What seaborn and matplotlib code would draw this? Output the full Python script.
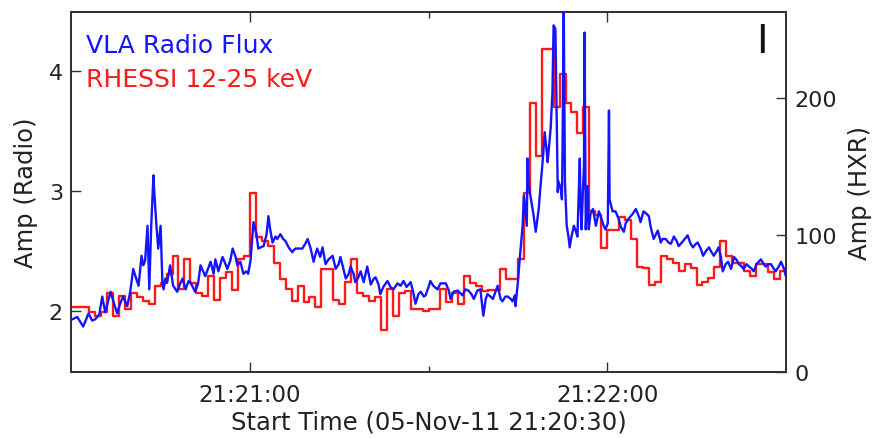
import matplotlib
matplotlib.use("Agg")
import matplotlib.pyplot as plt
import seaborn as sns
import numpy as np
import pandas as pd
from matplotlib.ticker import FixedLocator

# ---------------- data ----------------
# VLA radio flux: time (s after 21:20:30) and amplitude
radio_t = [0.17, 1.0, 2.0, 2.9, 3.5, 4.0, 4.7, 5.2, 5.7, 6.6, 7.2, 7.7, 8.2, 8.7, 9.4, 9.9,
           10.4, 10.9, 11.3, 11.8, 12.1, 12.4, 12.8, 13.1, 13.4, 13.8, 13.9, 14.3, 14.6, 15.0,
           15.3, 15.5, 15.8, 16.1, 16.6, 17.1, 17.8, 18.3, 18.7, 19.2, 19.7, 20.0, 20.8, 21.3,
           21.7, 22.5, 23.4, 23.9, 24.2, 24.7, 25.4, 25.9, 26.2, 26.7, 27.1, 27.6, 27.9, 28.4,
           28.9, 29.4, 29.7, 30.1, 30.6, 31.1, 31.4, 31.8, 32.3, 32.8, 33.1, 33.4, 33.8, 34.3,
           34.6, 35.1, 35.6, 36.0, 36.5, 37.1, 37.6, 38.2, 38.8, 39.3, 39.7, 40.2, 40.7, 41.0,
           41.3, 41.8, 42.2, 42.7, 43.2, 43.9, 44.4, 44.9, 45.2, 45.7, 46.1, 46.6, 46.9, 47.4,
           47.7, 48.2, 48.6, 49.1, 49.7, 50.3, 50.8, 51.1, 51.6, 51.9, 52.4, 53.1, 53.6, 54.1,
           54.8, 55.3, 55.8, 56.3, 57.0, 57.5, 57.8, 58.3, 58.7, 59.2, 59.5, 60.0, 60.3, 60.8,
           61.5, 62.0, 62.9, 63.4, 63.7, 64.2, 64.9, 65.7, 66.2, 66.7, 67.2, 67.6, 68.2, 68.7,
           69.2, 69.6, 69.9, 70.4, 70.8, 71.3, 71.6, 72.1, 72.4, 72.9, 73.3, 73.8, 74.1, 74.5,
           74.6, 75.0, 75.3, 75.8, 76.0, 76.3, 76.5, 76.6, 76.8, 77.1, 77.6, 78.0, 78.5, 78.8,
           79.2, 79.5, 79.8, 80.0, 80.5, 80.8, 81.0, 81.3, 81.5, 81.7, 81.8, 82.2, 82.4, 82.5,
           82.7, 82.9, 83.2, 83.5, 83.7, 84.0, 84.4, 84.7, 85.0, 85.4, 85.5, 85.7, 85.9, 86.1,
           86.2, 86.4, 86.7, 86.9, 87.2, 87.6, 88.1, 88.6, 88.9, 89.4, 89.7, 90.1, 90.3, 90.4,
           90.9, 91.4, 91.9, 92.3, 92.8, 93.1, 93.6, 94.3, 94.8, 95.3, 95.6, 96.1, 96.6, 97.0,
           97.3, 97.8, 98.2, 98.5, 99.0, 99.3, 99.8, 100.3, 100.7, 101.2, 101.7, 102.0, 102.7,
           103.5, 104.0, 104.4, 104.9, 105.2, 105.7, 106.1, 106.6, 107.1, 107.4, 107.9, 108.4,
           108.7, 109.1, 109.4, 109.9, 110.3, 110.8, 111.3, 111.8, 112.1, 112.6, 112.9, 113.4,
           113.8, 114.3, 114.6, 115.1, 115.8, 116.3, 116.6, 117.1, 117.5, 118.0, 118.3, 118.8,
           119.2, 119.7, 120.0]
radio_amp = [1.93, 1.95, 1.87, 1.98, 1.92, 1.93, 1.97, 2.12, 1.99, 2.16, 2.06, 1.98, 2.06, 2.12, 2.04, 2.16,
             2.35, 2.27, 2.21, 2.46, 2.38, 2.42, 2.71, 2.18, 2.68, 3.13, 3.02, 2.71, 2.52, 2.71,
             2.24, 2.18, 2.27, 2.24, 2.38, 2.21, 2.16, 2.23, 2.27, 2.18, 2.25, 2.24, 2.16, 2.23,
             2.38, 2.29, 2.41, 2.31, 2.43, 2.33, 2.45, 2.39, 2.35, 2.42, 2.52, 2.45, 2.38, 2.41,
             2.31, 2.33, 2.31, 2.42, 2.74, 2.64, 2.52, 2.53, 2.54, 2.64, 2.79, 2.68, 2.57, 2.62,
             2.60, 2.64, 2.60, 2.58, 2.53, 2.49, 2.52, 2.52, 2.52, 2.56, 2.60, 2.52, 2.41, 2.47,
             2.52, 2.45, 2.53, 2.39, 2.43, 2.46, 2.35, 2.39, 2.45, 2.35, 2.27, 2.31, 2.37, 2.31,
             2.24, 2.28, 2.33, 2.24, 2.37, 2.22, 2.27, 2.28, 2.22, 2.14, 2.20, 2.25, 2.20, 2.18,
             2.23, 2.21, 2.25, 2.20, 2.24, 2.14, 2.06, 2.14, 2.16, 2.12, 2.13, 2.20, 2.25, 2.21,
             2.18, 2.23, 2.23, 2.17, 2.10, 2.16, 2.17, 2.13, 2.18, 2.17, 2.14, 2.10, 2.17, 2.18,
             1.96, 2.10, 2.14, 2.12, 2.10, 2.17, 2.21, 2.10, 2.08, 2.12, 2.12, 2.10, 2.08, 2.13,
             2.04, 2.24, 2.43, 2.71, 2.96, 2.81, 2.71, 3.27, 3.06, 2.96, 2.81, 2.66, 2.85, 3.04,
             3.27, 3.49, 3.35, 3.24, 3.52, 3.82, 4.38, 4.35, 3.68, 2.99, 3.08, 3.02, 2.93, 3.35,
             4.55, 3.08, 2.71, 2.62, 2.53, 2.62, 2.71, 2.67, 2.62, 3.27, 2.93, 2.68, 2.98, 3.21,
             4.32, 2.68, 3.04, 2.68, 2.81, 2.85, 2.71, 2.83, 2.79, 2.71, 2.68, 2.73, 3.67, 2.93,
             2.83, 2.83, 2.77, 2.70, 2.66, 2.73, 2.77, 2.81, 2.85, 2.79, 2.74, 2.83, 2.81, 2.79,
             2.70, 2.60, 2.64, 2.67, 2.57, 2.60, 2.60, 2.57, 2.56, 2.62, 2.58, 2.54, 2.58,
             2.63, 2.56, 2.53, 2.56, 2.57, 2.52, 2.46, 2.50, 2.53, 2.50, 2.46, 2.50,
             2.53, 2.45, 2.33, 2.39, 2.41, 2.35, 2.45, 2.42, 2.39, 2.37, 2.35, 2.39,
             2.37, 2.35, 2.33, 2.39, 2.43, 2.39, 2.37, 2.39, 2.39, 2.35, 2.33, 2.37,
             2.41, 2.35, 2.29]

# RHESSI 12-25 keV: one value per second, starting at 21:20:30
hxr_amp = [47.5, 47.5, 47.5, 44, 41, 44, 58, 41, 55.5, 46,
           58, 55, 52, 50, 63, 65, 71.5, 85, 60.6, 82.5,
           65, 58, 55.5, 70, 53, 69, 73, 60, 82.5, 85,
           131, 99, 96, 92, 80, 68, 60.6, 52, 63, 51,
           55, 47.5, 75, 75, 53, 49.6, 65.7, 82.5, 58, 56,
           52, 55, 31, 60.6, 41, 58, 59, 46, 46, 44.5,
           46, 46, 60.6, 51, 58, 50, 70, 65, 63, 59,
           60, 60, 75, 68, 68, 82.5, 131, 197, 158, 236,
           236, 194, 217.5, 197, 190, 175, 194, 117.5, 115, 91,
           104, 104, 113, 111, 97, 77, 76, 64, 66, 85,
           83, 80, 74, 79, 76, 64, 66, 69, 77, 95.6,
           85, 80, 80, 74, 70, 79, 79, 73, 68, 74]

x_tick_labels = ["21:21:00", "21:22:00"]
x_major_ticks = [30, 90]
x_minor_ticks = [60]
radio_ticks = [2, 3, 4]
hxr_ticks = [0, 100, 200]

# ---------------- plot ----------------
sns.set_style("ticks")
plt.rcParams['font.family'] = ['DejaVu Sans']

fig = plt.figure(figsize=(8.8, 4.39), dpi=100)
ax = fig.add_axes([0.081, 0.150, 0.812, 0.820])
ax2 = ax.twinx()

radio_df = pd.DataFrame({"t": radio_t, "amp": radio_amp})
hxr_df = pd.DataFrame({"t": np.arange(len(hxr_amp) + 1),
                       "amp": hxr_amp + [hxr_amp[-1]]})

red = "#ff1a1a"
blue = "#1414ff"
sns.lineplot(data=hxr_df, x="t", y="amp", ax=ax2, color=red, lw=1.7,
             drawstyle="steps-post", estimator=None, sort=False, zorder=2)
sns.lineplot(data=radio_df, x="t", y="amp", ax=ax, color=blue, lw=1.7,
             estimator=None, sort=False, zorder=3)
ax.set_zorder(ax2.get_zorder() + 1)
ax.patch.set_visible(False)

ax.set_xlim(0, 120)
ax.set_ylim(1.49, 4.49)
ax2.set_ylim(0, 263)

ax.xaxis.set_major_locator(FixedLocator(x_major_ticks))
ax.xaxis.set_minor_locator(FixedLocator(x_minor_ticks))
ax.set_xticklabels(x_tick_labels)
ax.set_yticks(radio_ticks)
ax.set_yticklabels([str(v) for v in radio_ticks])
ax2.set_yticks(hxr_ticks)
ax2.set_yticklabels([str(v) for v in hxr_ticks])

tick_col = "#333333"
ax.tick_params(axis="x", which="major", direction="in", length=7, width=1,
               top=True, bottom=True, labelsize=16.5, color=tick_col, pad=8)
ax.tick_params(axis="x", which="minor", direction="in", length=4, width=1,
               top=True, bottom=True, color=tick_col)
ax.tick_params(axis="y", direction="in", length=7, width=1, labelsize=16,
               color=tick_col, pad=6, right=False)
ax2.tick_params(axis="y", direction="in", length=7, width=1, labelsize=16,
                color=tick_col, pad=6)
for a in (ax, ax2):
    for s in a.spines.values():
        s.set_visible(True)
        s.set_color(tick_col)
        s.set_linewidth(1.3)
    a.tick_params(labelcolor="#222222")

ax.set_xlabel("Start Time (05-Nov-11 21:20:30)", fontsize=17.5, color="#222222", labelpad=2)
ax.set_ylabel("Amp (Radio)", fontsize=17.5, color="#222222", labelpad=8)
ax2.set_ylabel("Amp (HXR)", fontsize=17.5, color="#222222", labelpad=8)

ax.text(0.02, 0.91, "VLA Radio Flux", transform=ax.transAxes, color=blue,
        fontsize=18, va="center", ha="left")
ax.text(0.02, 0.815, "RHESSI 12-25 keV", transform=ax.transAxes, color=red,
        fontsize=18, va="center", ha="left")
ax.text(0.966, 0.919, "I", transform=ax.transAxes, color="#111111",
        fontsize=28, fontweight="normal", va="center", ha="center")

fig.savefig("out.png", dpi=100)
